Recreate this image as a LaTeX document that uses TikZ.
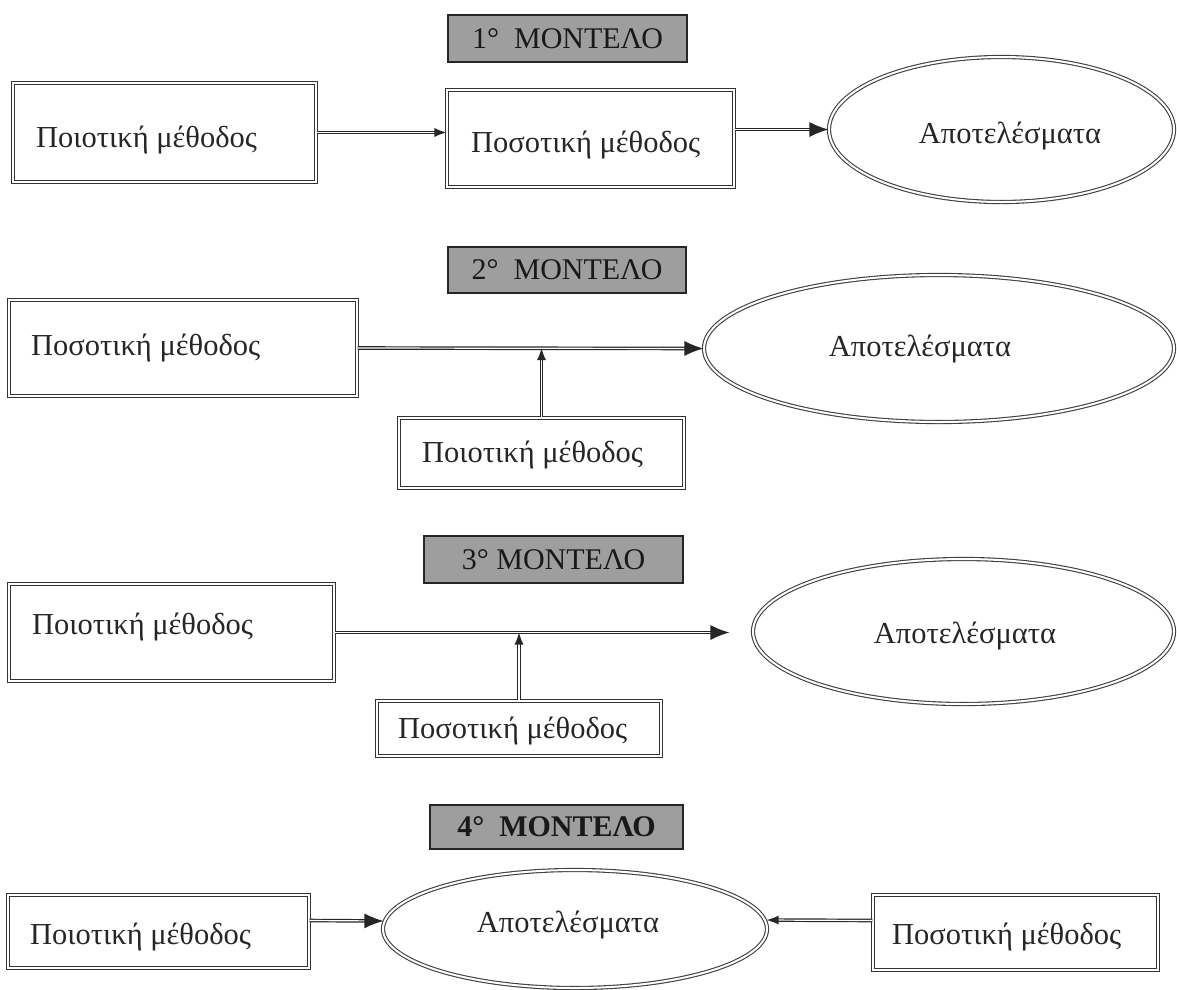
\documentclass[tikz,border=0pt]{standalone}
\usepackage{fontspec}
\setmainfont{Liberation Serif}
\usetikzlibrary{shapes.geometric,arrows.meta,calc}
\begin{document}
\begin{tikzpicture}[x=1pt,y=-1pt,
  box/.style={draw=black!80, double=white, double distance=1.8pt, line width=1.1pt, rectangle, inner sep=0pt},
  oval/.style={draw=black!75, double=white, double distance=2pt, line width=1.1pt, ellipse, inner sep=0pt},
  ttl/.style={draw=black!85, line width=1.5pt, fill=black!38, rectangle, inner sep=0pt, font=\fontsize{30}{34}\selectfont, text=black!90},
  txt/.style={font=\fontsize{30.5}{36}\selectfont, inner sep=0pt, anchor=west, text=black!85},
  otxt/.style={font=\fontsize{30.5}{36}\selectfont, inner sep=0pt, text=black!85},
  conn/.style={draw=black!85, line width=1.2pt, double=white, double distance=1.2pt, -{Latex[length=19pt,width=15pt]}},
  connsmall/.style={draw=black!85, line width=1.2pt, double=white, double distance=1.2pt, -{Latex[length=12pt,width=9pt]}}
]
\useasboundingbox (0,0) rectangle (1177,989);

% ---------- Model 1 ----------
\node[ttl, minimum width=239pt, minimum height=47pt] (t1) at (567.5,38.5) {1°\ \ ΜΟΝΤΕΛΟ};
\node[box, minimum width=303pt, minimum height=99pt] (a1) at (164.5,132.5) {};
\node[txt] (a1t) at (36,140) {Ποιοτική μέθοδος};
\node[box, minimum width=287pt, minimum height=97pt] (b1) at (590.5,138.5) {};
\node[txt] (b1t) at (471,145) {Ποσοτική μέθοδος};
\node[oval, minimum width=345pt, minimum height=145pt] (e1) at (1001.5,129.5) {};
\node[otxt] (e1t) at (1010,136) {Αποτελέσματα};
\draw[connsmall] (a1.east) -- (a1.east -| b1.west);
\draw[conn] (e1.west -| b1.east) -- (e1.west);

% ---------- Model 2 ----------
\node[ttl, minimum width=238pt, minimum height=46pt] (t2) at (567,270) {2°\ \ ΜΟΝΤΕΛΟ};
\node[box, minimum width=348pt, minimum height=96pt] (a2) at (183,348) {};
\node[txt] (a2t) at (31,348) {Ποσοτική μέθοδος};
\node[box, minimum width=285pt, minimum height=70pt] (b2) at (541.5,453) {};
\node[txt] (b2t) at (422,455) {Ποιοτική μέθοδος};
\node[oval, minimum width=470pt, minimum height=147pt] (e2) at (939,348.5) {};
\node[otxt] (e2t) at (920,349) {Αποτελέσματα};
\draw[conn] (a2.east) -- (e2.west);
\draw[connsmall] (b2.north) -- (b2.north |- a2.east);

% ---------- Model 3 ----------
\node[ttl, minimum width=259pt, minimum height=47pt] (t3) at (553.5,559.5) {3°\ ΜΟΝΤΕΛΟ};
\node[box, minimum width=325pt, minimum height=97pt] (a3) at (171.5,632.5) {};
\node[txt] (a3t) at (32,627) {Ποιοτική μέθοδος};
\node[box, minimum width=284pt, minimum height=55pt] (b3) at (519,728.5) {};
\node[txt] (b3t) at (398,731) {Ποσοτική μέθοδος};
\node[oval, minimum width=421pt, minimum height=145pt] (e3) at (963.5,631.5) {};
\node[otxt] (e3t) at (965,636) {Αποτελέσματα};
\draw[conn, shorten >=23pt] (a3.east) -- (a3.east -| e3.west);
\draw[connsmall] (b3.north) -- (b3.north |- a3.east);

% ---------- Model 4 ----------
\node[ttl, minimum width=253pt, minimum height=44pt, font=\fontsize{30}{34}\selectfont\bfseries] (t4) at (556.5,827) {4°\ \ ΜΟΝΤΕΛΟ};
\node[box, minimum width=301pt, minimum height=73pt] (a4) at (158.5,931.5) {};
\node[txt] (a4t) at (30,937) {Ποιοτική μέθοδος};
\node[oval, minimum width=384pt, minimum height=118pt] (e4) at (575,929) {};
\node[otxt] (e4t) at (568,925) {Αποτελέσματα};
\node[box, minimum width=285pt, minimum height=75pt] (b4) at (1015.5,932.5) {};
\node[txt] (b4t) at (892,937) {Ποσοτική μέθοδος};
\draw[conn] ($(a4.east)+(0,-11)$) -- ($(e4.west)+(1,-8)$);
\draw[connsmall] ($(b4.west)+(0,-12)$) -- ($(e4.east)+(-1,-9)$);
\end{tikzpicture}
\end{document}
